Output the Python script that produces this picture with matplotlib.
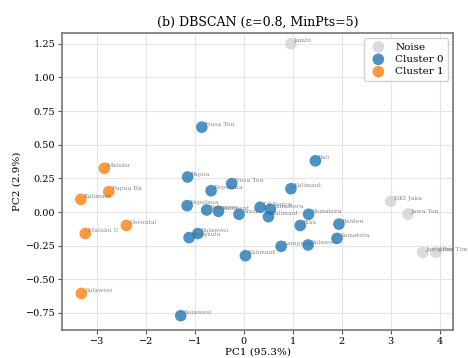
import matplotlib
matplotlib.use("Agg")
import matplotlib.pyplot as plt
import numpy as np

plt.rcParams["font.family"] = ["DejaVu Serif"]

# provinsi (label dipotong 8 karakter), PC1, PC2, label cluster DBSCAN
names = ["Jambi", "DKI Jaka", "Jawa Ten", "Jawa Bar", "Jawa Tim",
         "Maluku", "Papua Ba", "Kalimant", "Gorontal", "Maluku U", "Sulawesi",
         "Nusa Ten", "Bali", "Papua", "Kepulaua", "Nusa Ten", "Kepulaua",
         "Sulawesi", "Kalimant", "Aceh", "Sulawesi", "Bengkulu", "Kalimant",
         "Sulawesi", "Kalimant", "DI Yogya", "Sumatera", "Kalimant", "Sumatera",
         "Riau", "Banten", "Sumatera", "Lampung", "Sulawesi"]
pc1 = [0.96, 3.00, 3.35, 3.65, 3.92,
       -2.85, -2.76, -3.33, -2.40, -3.24, -3.32,
       -0.86, 1.46, -1.15, -0.67, -0.25, -1.16,
       -0.76, -0.52, -0.10, -0.94, -1.12, 0.03,
       -1.29, 0.96, 0.33, 0.54, 0.50, 1.32,
       1.15, 1.94, 1.90, 0.76, 1.31]
pc2 = [1.25, 0.08, -0.015, -0.30, -0.30,
       0.325, 0.151, 0.094, -0.10, -0.16, -0.605,
       0.63, 0.38, 0.26, 0.158, 0.21, 0.047,
       0.015, 0.005, -0.017, -0.16, -0.19, -0.325,
       -0.77, 0.173, 0.035, 0.02, -0.035, -0.017,
       -0.10, -0.09, -0.196, -0.255, -0.245]
labels = [-1, -1, -1, -1, -1,
          1, 1, 1, 1, 1, 1,
          0, 0, 0, 0, 0, 0, 0, 0, 0, 0, 0, 0,
          0, 0, 0, 0, 0, 0, 0, 0, 0, 0, 0]

pc1 = np.array(pc1)
pc2 = np.array(pc2)
labels = np.array(labels)

fig, ax = plt.subplots(figsize=(4.68, 3.58), dpi=100)
ax.set_facecolor("white")
ax.grid(True, color="#e6e6e6", linewidth=0.8)
ax.set_axisbelow(True)

styles = [(-1, "lightgray", "Noise"), (0, "#1f77b4", "Cluster 0"), (1, "#ff7f0e", "Cluster 1")]
for lab, col, name in styles:
    m = labels == lab
    ax.scatter(pc1[m], pc2[m], s=70, c=col, alpha=0.8, label=name, edgecolors="none")

for x, y, n in zip(pc1, pc2, names):
    ax.annotate(n, (x, y), xytext=(2, 1), textcoords="offset points",
                fontsize=4.5, color="#666666", alpha=0.75)

ax.set_xlim(-3.71, 4.27)
ax.set_ylim(-0.877, 1.33)
ax.set_xticks(range(-3, 5))
ax.set_yticks(np.arange(-0.75, 1.26, 0.25))
ax.tick_params(labelsize=7, length=3, pad=2, color="#555555")
for s in ax.spines.values():
    s.set_color("#777777")
    s.set_linewidth(1.2)

ax.set_xlabel("PC1 (95.3%)", fontsize=7.5, labelpad=1)
ax.set_ylabel("PC2 (2.9%)", fontsize=7.5, labelpad=3)
ax.set_title("(b) DBSCAN (ε=0.8, MinPts=5)", fontsize=9, pad=5)
ax.legend(loc="upper right", fontsize=7.5, framealpha=0.9, handletextpad=0.6,
          borderpad=0.4, labelspacing=0.3)

plt.subplots_adjust(left=0.133, right=0.968, top=0.908, bottom=0.078)
plt.savefig("out.png", dpi=100)
plt.close()
